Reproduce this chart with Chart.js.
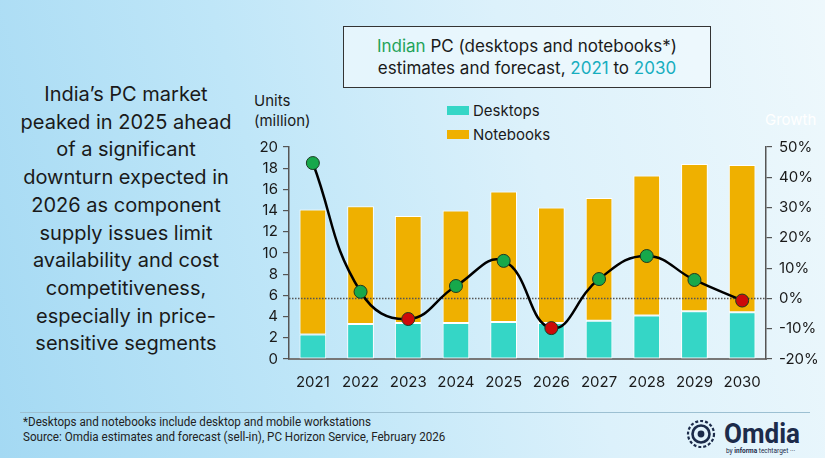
<!DOCTYPE html>
<html>
<head>
<meta charset="utf-8">
<script src="https://cdn.jsdelivr.net/npm/chart.js@4"></script>
<style>
  html, body { margin: 0; padding: 0; }
  body {
    width: 825px; height: 458px; position: relative; overflow: hidden;
    font-family: "Inter", "Noto Sans", sans-serif; color: #1a1a1a;
    background: linear-gradient(75deg, #a4d9f3 0%, #bfe6f8 35%, #dcf1fb 65%, #eef8fc 100%);
  }
  .abs { position: absolute; }
  #lead { left: 10px; top: 81px; width: 232px; text-align: center; font-size: 20px; line-height: 27.7px; }
  #titlebox { left: 343px; top: 26px; width: 368px; height: 62px; border: 1.5px solid #333;
    background: rgba(240, 250, 254, 0.7); text-align: center; font-size: 17px; line-height: 22px;
    box-sizing: border-box; padding-top: 8px; }
  .green { color: #1fa35a; }
  .teal { color: #17aebf; }
  #units { left: 254px; top: 91px; font-size: 15px; line-height: 20px; }
  #growth { left: 765px; top: 110px; font-size: 15px; color: #ffffff; }
  .leg { font-size: 15px; }
  .sw { display: inline-block; width: 22px; height: 9px; margin-right: 4px; vertical-align: 1px; }
  #rule { left: 20px; top: 412px; width: 790px; height: 1px; background: #9cc0d2; }
  #foot { left: 23px; top: 415px; font-family: "Roboto", sans-serif; font-size: 12.5px; line-height: 14.5px; color: #222;
    transform: scaleX(0.93); transform-origin: left top; white-space: nowrap; }
  #wrap { left: 240px; top: 130px; width: 585px; height: 270px; }
  #logo { left: 682px; top: 418px; }
</style>
</head>
<body>
<div id="lead" class="abs">India’s PC market peaked in 2025 ahead of a significant downturn expected in 2026 as component supply issues limit availability and cost competitiveness, especially in price-sensitive segments</div>
<div id="titlebox" class="abs"><span class="green">Indian</span> PC (desktops and notebooks*)<br>estimates and forecast, <span class="teal">2021</span> to <span class="teal">2030</span></div>
<div id="units" class="abs">Units<br>(million)</div>
<div id="growth" class="abs">Growth</div>
<div class="abs leg" style="left:447px; top:101px;"><span class="sw" style="background:#35d6c6"></span>Desktops</div>
<div class="abs leg" style="left:447px; top:125px;"><span class="sw" style="background:#efb000"></span>Notebooks</div>
<div id="wrap" class="abs"><canvas id="chart" width="585" height="270"></canvas></div>
<div id="rule" class="abs"></div>
<div id="foot" class="abs">*Desktops and notebooks include desktop and mobile workstations<br>Source: Omdia estimates and forecast (sell-in), PC Horizon Service, February 2026</div>
<svg id="logo" class="abs" width="140" height="40" viewBox="0 0 140 40">
  <circle cx="19" cy="16" r="13" fill="none" stroke="#1c2b4a" stroke-width="2.2" stroke-dasharray="3 2"/>
  <circle cx="19" cy="16" r="8.5" fill="none" stroke="#1c2b4a" stroke-width="2.6"/>
  <circle cx="19" cy="16" r="3.4" fill="#1c2b4a"/>
  <text x="42" y="25" font-family="Roboto, sans-serif" font-weight="bold" font-size="28" fill="#1c2b4a" textLength="76" lengthAdjust="spacingAndGlyphs">Omdia</text>
  <text x="44" y="35" font-family="Roboto, sans-serif" font-size="6.5" fill="#1c2b4a">by <tspan font-weight="bold">informa</tspan> techtarget ···</text>
</svg>
<script>
var years = ['2021', '2022', '2023', '2024', '2025', '2026', '2027', '2028', '2029', '2030'];
var desktops = [2.3, 3.3, 3.4, 3.4, 3.5, 3.4, 3.6, 4.1, 4.5, 4.4];
var notebooks = [11.8, 11.1, 10.1, 10.6, 12.3, 10.9, 11.6, 13.2, 13.9, 13.9];
var growth = [44.7, 2.2, -6.8, 4.1, 12.4, -9.8, 6.4, 14.0, 6.1, -0.7];
var unitTicks = [0, 2, 4, 6, 8, 10, 12, 14, 16, 18, 20];
var growthTicks = [-20, -10, 0, 10, 20, 30, 40, 50];

// dotted zero line between the bars and the growth line
var zeroLine = {
  id: 'zeroLine',
  afterDatasetDraw: function (chart, args) {
    if (args.index !== 1) return;
    var c = chart.ctx, area = chart.chartArea;
    var y = chart.scales.yGrowth.getPixelForValue(0);
    c.save();
    c.strokeStyle = '#555';
    c.lineWidth = 1.5;
    c.setLineDash([1.5, 1.5]);
    c.beginPath();
    c.moveTo(area.left, y);
    c.lineTo(area.right, y);
    c.stroke();
    c.restore();
  }
};

var tickFont = { family: 'Inter', size: 15 };

new Chart(document.getElementById('chart').getContext('2d'), {
  data: {
    labels: years,
    datasets: [
      {
        type: 'line', label: 'Growth', data: growth, yAxisID: 'yGrowth', order: 0,
        borderColor: '#000', borderWidth: 2.5, tension: 0.45,
        pointRadius: 6.5, pointBorderWidth: 1, pointBorderColor: '#1e3a22',
        pointBackgroundColor: function (ctx) { return ctx.raw < 0 ? '#cc0a0a' : '#17a84b'; }
      },
      {
        type: 'bar', label: 'Desktops', data: desktops, yAxisID: 'yUnits', order: 1,
        backgroundColor: '#35d6c6', borderColor: '#ffffff', borderWidth: 1, borderSkipped: false,
        barPercentage: 0.56, categoryPercentage: 1
      },
      {
        type: 'bar', label: 'Notebooks', data: notebooks, yAxisID: 'yUnits', order: 1,
        backgroundColor: '#efb000', borderColor: '#ffffff', borderWidth: 1, borderSkipped: false,
        barPercentage: 0.56, categoryPercentage: 1
      }
    ]
  },
  options: {
    responsive: false,
    animation: false,
    layout: { autoPadding: false, padding: { top: 17, right: 0, left: 0, bottom: 0 } },
    plugins: { legend: { display: false }, tooltip: { enabled: false } },
    scales: {
      x: {
        stacked: true,
        grid: { display: false },
        border: { color: '#777', width: 2 },
        ticks: { color: '#1a1a1a', font: tickFont, padding: 6 },
        afterFit: function (s) { s.height = 41; }
      },
      yUnits: {
        position: 'left', stacked: true, min: 0, max: 20,
        afterBuildTicks: function (s) { s.ticks = unitTicks.map(function (v) { return { value: v }; }); },
        grid: { drawOnChartArea: false, color: '#555', tickLength: 6, lineWidth: 1.2 },
        border: { color: '#555', width: 1.5 },
        ticks: { color: '#1a1a1a', font: tickFont, padding: 5 },
        afterFit: function (s) { s.width = 49; }
      },
      yGrowth: {
        position: 'right', min: -20, max: 50,
        afterBuildTicks: function (s) { s.ticks = growthTicks.map(function (v) { return { value: v }; }); },
        grid: { drawOnChartArea: false, color: '#555', tickLength: 6, lineWidth: 1.2 },
        border: { color: '#555', width: 1.5 },
        ticks: { color: '#1a1a1a', font: tickFont, padding: 7, callback: function (v) { return v + '%'; } },
        afterFit: function (s) { s.width = 59; }
      }
    }
  },
  plugins: [zeroLine]
});
</script>
</body>
</html>
